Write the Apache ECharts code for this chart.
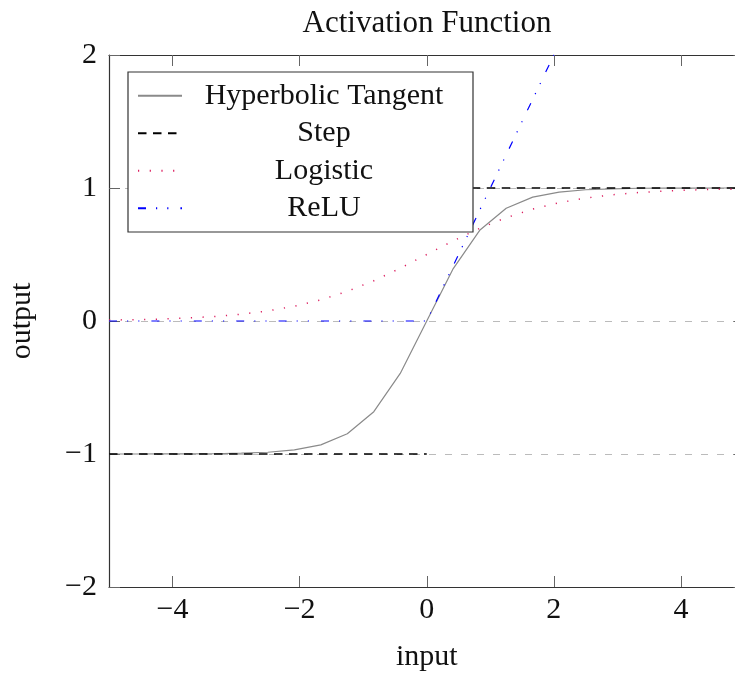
<!DOCTYPE html>
<html>
<head>
<meta charset="utf-8">
<script src="https://cdn.jsdelivr.net/npm/echarts@6/dist/echarts.min.js"></script>
<style>html,body{margin:0;padding:0;background:#fff}#c{width:735px;height:675px}</style>
</head>
<body>
<div id="c"></div>
<script>
// ---- data ----
const titleText = 'Activation Function';
const xName = 'input';
const yName = 'output';
const xTicks = [-4, -2, 0, 2, 4];
const yTicks = [-2, -1, 0, 1, 2];
const sampleX = [-5, -4.583, -4.167, -3.75, -3.333, -2.917, -2.5, -2.083, -1.667, -1.25, -0.833, -0.417, 0,
                 0.417, 0.833, 1.25, 1.667, 2.083, 2.5, 2.917, 3.333, 3.75, 4.167, 4.583, 5];
const tanhY = [-1.000, -1.000, -0.999, -0.999, -0.998, -0.994, -0.987, -0.969, -0.931, -0.848, -0.682, -0.394, 0,
               0.394, 0.682, 0.848, 0.931, 0.969, 0.987, 0.994, 0.998, 0.999, 0.999, 1.000, 1.000];
const logisticY = [0.007, 0.010, 0.015, 0.023, 0.034, 0.051, 0.076, 0.111, 0.159, 0.223, 0.303, 0.397, 0.5,
                   0.603, 0.697, 0.777, 0.841, 0.889, 0.924, 0.949, 0.966, 0.977, 0.985, 0.990, 0.993];
const stepX = [-5, 0, null, 0, 5];
const stepY = [-1, -1, null, 1, 1];
const reluX = [-5, 0, 5];
const reluY = [0, 0, 5];
const seriesNames = ['Hyperbolic Tangent', 'Step', 'Logistic', 'ReLU'];

// ---- build ----
const zip = (xs, ys) => xs.map((x, i) => (x === null ? [0, '-'] : [x, ys[i]]));
const FONT = '"Liberation Serif", "Times New Roman", serif';
const FS = 30;
const fmt = v => (v < 0 ? '\u2212' + Math.abs(v) : String(v));

const chart = echarts.init(document.getElementById('c'), null, { renderer: 'canvas' });
const axisLineStyle = { color: '#333', width: 1.2 };
const tickStyle = { color: '#666', width: 1 };

chart.setOption({
  animation: false,
  backgroundColor: '#fff',
  title: {
    text: titleText, left: 422, top: 3, textAlign: 'center',
    textStyle: { fontFamily: FONT, fontSize: 31, fontWeight: 'normal', color: '#111' }
  },
  grid: { left: 109, width: 635.5, top: 55, height: 532, containLabel: false, outerBoundsMode: 'none' },
  legend: {
    orient: 'vertical', left: 128, top: 72,
    padding: [5, 12, 5, 9], itemGap: 0,
    itemWidth: 44, itemHeight: 14,
    backgroundColor: '#fff', borderColor: '#333', borderWidth: 1.2,
    data: seriesNames,
    itemStyle: { opacity: 0, borderWidth: 0 },
    formatter: n => '{c|' + n + '}',
    textStyle: {
      fontFamily: FONT, fontSize: FS, color: '#111',
      rich: { c: { fontFamily: FONT, fontSize: FS, width: 274, height: 37.5, lineHeight: 37.5, align: 'center', verticalAlign: 'middle', color: '#111' } }
    },
    z: 10
  },
  xAxis: [{
    type: 'value', min: -5, max: 5, position: 'bottom',
    name: xName, nameLocation: 'middle', nameGap: 55,
    nameTextStyle: { fontFamily: FONT, fontSize: FS, color: '#111' },
    axisLine: { show: true, onZero: false, lineStyle: axisLineStyle },
    axisTick: { show: true, inside: true, length: 11, customValues: xTicks, lineStyle: tickStyle },
    axisLabel: { customValues: xTicks, formatter: fmt, margin: 8, fontFamily: FONT, fontSize: FS, color: '#111' },
    splitLine: { show: false }
  }, {
    type: 'value', min: -5, max: 5, position: 'top',
    axisLine: { show: true, onZero: false, lineStyle: axisLineStyle },
    axisTick: { show: true, inside: true, length: 11, customValues: xTicks, lineStyle: tickStyle },
    axisLabel: { show: false },
    splitLine: { show: false }
  }],
  yAxis: [{
    type: 'value', min: -2, max: 2, interval: 1, position: 'left',
    name: yName, nameLocation: 'middle', nameGap: 72,
    nameTextStyle: { fontFamily: FONT, fontSize: FS, color: '#111' },
    axisLine: { show: true, onZero: false, lineStyle: axisLineStyle },
    axisTick: { show: true, inside: true, length: 11, lineStyle: tickStyle },
    axisLabel: { formatter: fmt, margin: 12, fontFamily: FONT, fontSize: FS, color: '#111' },
    splitLine: { show: true, lineStyle: { color: '#bbb', width: 1, type: [7, 9] } }
  }, {
    type: 'value', min: -2, max: 2, interval: 1, position: 'right',
    axisLine: { show: true, onZero: false, lineStyle: axisLineStyle },
    axisTick: { show: true, inside: true, length: 11, lineStyle: tickStyle },
    axisLabel: { show: false },
    splitLine: { show: false }
  }],
  series: [
    { name: seriesNames[0], type: 'line', data: zip(sampleX, tanhY), symbol: 'none', showSymbol: false,
      color: '#8a8a8a', lineStyle: { color: '#8a8a8a', width: 1.2, type: 'solid' }, z: 2 },
    { name: seriesNames[1], type: 'line', data: zip(stepX, stepY), symbol: 'none', showSymbol: false, connectNulls: false,
      color: '#000', lineStyle: { color: '#000', width: 1.3, type: [8.5, 6.5] }, z: 3 },
    { name: seriesNames[2], type: 'line', data: zip(sampleX, logisticY), symbol: 'none', showSymbol: false,
      color: '#dc1e5f', lineStyle: { color: '#dc1e5f', width: 1.5, type: [1.2, 10.5] }, z: 4 },
    { name: seriesNames[3], type: 'line', data: zip(reluX, reluY), symbol: 'none', showSymbol: false,
      color: '#0000ff', lineStyle: { color: '#0000ff', width: 1.2, type: [8, 10, 1.2, 10, 1.2, 12] }, z: 5 }
  ]
});
</script>
</body>
</html>
